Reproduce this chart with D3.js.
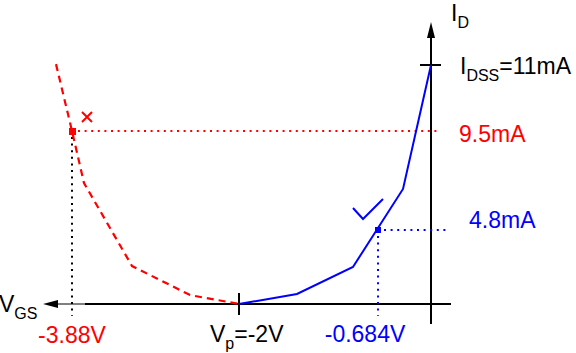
<!DOCTYPE html>
<html><head><meta charset="utf-8">
<script src="https://cdn.jsdelivr.net/npm/d3@7"></script>
<style>
html,body{margin:0;padding:0;background:#fff;}
svg{display:block;font-family:"Liberation Sans",Arial,Helvetica,sans-serif;}
</style></head>
<body>
<svg id="chart" width="576" height="353"></svg>
<script>
// Key values (schematic, not to scale)
const vgsMarks = [-3.88, -2, -0.684, 0];          // V
const idMarks  = [0, 4.8, 9.5, 11];               // mA
// Blue (valid) branch: VGS from Vp to 0
const blueVgs = [-2, -1.451, -0.921, -0.361, 0];
const blueId  = [0, 0.65, 2.4, 6.75, 11];
// Red (invalid) branch: VGS below Vp
const redVgs = [-4.06, -3.88, -3.745, -3.204, -2.551, -2];
const redId  = [11.02, 9.5, 7.03, 2.46, 0.58, 0];
// Labelled operating points
const redPoint  = {vgs: -3.88, id: 9.5};
const bluePoint = {vgs: -0.684, id: 4.8};
const Vp = -2, IDSS = 11;

const svg = d3.select("#chart");
const x = d3.scaleLinear().domain(vgsMarks).range([72, 239, 378, 431]);
const y = d3.scaleLinear().domain(idMarks).range([304, 230, 131, 65]);

const F = 23, FS = 16;

// Axes
const x0 = x(0), y0 = y(0);
svg.append("line").attr("x1", 85).attr("x2", 451).attr("y1", y0).attr("y2", y0)
  .attr("stroke", "#000").attr("stroke-width", 2);
svg.append("line").attr("x1", 50).attr("x2", 85).attr("y1", y0).attr("y2", y0)
  .attr("stroke", "#000").attr("stroke-width", 1);
svg.append("path").attr("d", `M43,${y0} L58,${y0-4} L58,${y0+4} Z`).attr("fill", "#000");
svg.append("line").attr("x1", x0).attr("x2", x0).attr("y1", 30).attr("y2", 324)
  .attr("stroke", "#000").attr("stroke-width", 2);
svg.append("path").attr("d", `M${x0},22 L${x0-4},38 L${x0+4},38 Z`).attr("fill", "#000");

// Ticks
svg.append("line").attr("x1", x(Vp)).attr("x2", x(Vp)).attr("y1", y0-11).attr("y2", y0+11)
  .attr("stroke", "#000").attr("stroke-width", 2);
svg.append("line").attr("x1", x0-11).attr("x2", x0+10).attr("y1", y(IDSS)).attr("y2", y(IDSS))
  .attr("stroke", "#000").attr("stroke-width", 2);

// Dotted guides
const dot = "2,4.6";
svg.append("line").attr("x1", x(redPoint.vgs)).attr("x2", x(redPoint.vgs))
  .attr("y1", y(redPoint.id)+6).attr("y2", 316)
  .attr("stroke", "#000").attr("stroke-width", 2).attr("stroke-dasharray", dot);
svg.append("line").attr("x1", x(redPoint.vgs)+6).attr("x2", 440)
  .attr("y1", y(redPoint.id)).attr("y2", y(redPoint.id))
  .attr("stroke", "#f00").attr("stroke-width", 2).attr("stroke-dasharray", dot);
svg.append("line").attr("x1", x(bluePoint.vgs)).attr("x2", x(bluePoint.vgs))
  .attr("y1", y(bluePoint.id)+6).attr("y2", 316)
  .attr("stroke", "#00f").attr("stroke-width", 2).attr("stroke-dasharray", dot);
svg.append("line").attr("x1", x(bluePoint.vgs)+6).attr("x2", 446)
  .attr("y1", y(bluePoint.id)).attr("y2", y(bluePoint.id))
  .attr("stroke", "#00f").attr("stroke-width", 2).attr("stroke-dasharray", dot);

// Curves
const line = d3.line().x(d => x(d[0])).y(d => y(d[1]));
svg.append("path").datum(d3.zip(redVgs, redId)).attr("d", line)
  .attr("fill", "none").attr("stroke", "#f00").attr("stroke-width", 2.2)
  .attr("stroke-dasharray", "7,5");
svg.append("path").datum(d3.zip(blueVgs, blueId)).attr("d", line)
  .attr("fill", "none").attr("stroke", "#00f").attr("stroke-width", 2);

// Points
svg.append("rect").attr("x", x(redPoint.vgs)-3).attr("y", y(redPoint.id)-3)
  .attr("width", 7).attr("height", 7).attr("fill", "#f00");
svg.append("rect").attr("x", x(bluePoint.vgs)-3).attr("y", y(bluePoint.id)-3)
  .attr("width", 6).attr("height", 6).attr("fill", "#00f");

// Cross mark (invalid)
const cx = x(redPoint.vgs) + 15, cy = y(redPoint.id) - 14;
svg.append("path").attr("d", `M${cx-5},${cy-5} L${cx+5},${cy+5} M${cx-5},${cy+5} L${cx+5},${cy-5}`)
  .attr("stroke", "#f00").attr("stroke-width", 2).attr("fill", "none");
// Check mark (valid)
const kx = x(bluePoint.vgs), ky = y(bluePoint.id);
svg.append("path").attr("d", `M${kx-25},${ky-22} L${kx-15},${ky-11} L${kx+5},${ky-31}`)
  .attr("stroke", "#00f").attr("stroke-width", 2).attr("fill", "none");

// Labels
function label(xp, yp, parts, color, anchor) {
  const t = svg.append("text").attr("x", xp).attr("y", yp).attr("fill", color)
    .attr("text-anchor", anchor || "start").attr("font-size", F);
  let shift = 0;
  parts.forEach(p => {
    const s = t.append("tspan").text(p.t);
    const target = p.sub ? 7 : 0;
    if (target !== shift) { s.attr("dy", target - shift); shift = target; }
    if (p.sub) s.attr("font-size", FS);
  });
  return t;
}
label(-1, 312, [{t:"V"},{t:"GS", sub:true}], "#000");
label(451, 21, [{t:"I"},{t:"D", sub:true}], "#000");
label(460, 74, [{t:"I"},{t:"DSS", sub:true},{t:"=11mA"}], "#000");
label(459, y(redPoint.id) + 11, [{t:"9.5mA"}], "#f00");
label(469, y(bluePoint.id) - 2, [{t:"4.8mA"}], "#00f");
label(x(redPoint.vgs), 343, [{t:"-3.88V"}], "#f00", "middle");
label(210, 342, [{t:"V"},{t:"p", sub:true},{t:"=-2V"}], "#000");
label(365, 342, [{t:"-0.684V"}], "#00f", "middle");
</script>
</body></html>
